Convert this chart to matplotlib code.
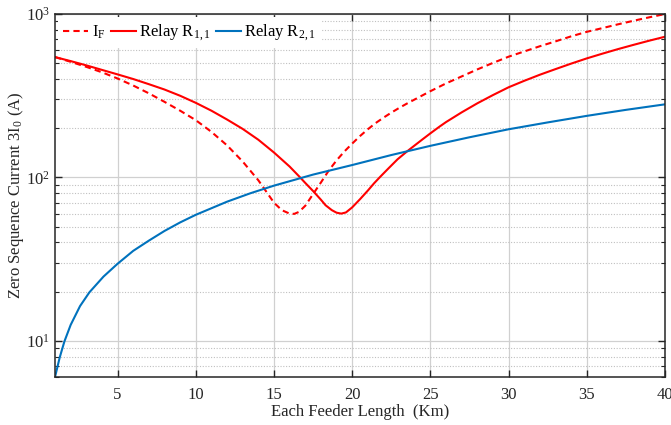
import numpy as np
import matplotlib
matplotlib.use("Agg")
import matplotlib.pyplot as plt
from matplotlib.ticker import LogLocator, NullFormatter

# ---- data (km, A) ----
x_if = [1, 2, 3, 4, 5, 6, 7, 8, 9, 10, 11, 12, 13, 14, 14.5, 15, 15.5, 16, 16.3,
        16.6, 17, 17.5, 18, 18.5, 19, 19.5, 20, 20.5, 21, 21.5, 22, 22.5, 23, 23.5,
        24, 24.5, 25, 26, 27, 28, 29, 30, 31, 32, 33, 34, 35, 36, 37, 38, 39, 40]
i_f = [545, 510, 475, 440, 403, 365, 327, 290, 256, 224, 190, 157, 125, 96, 82, 70,
       63, 60, 59.8, 61.5, 67, 79, 93, 110, 127, 144, 161, 179, 197, 215, 232, 249,
       266, 283, 300, 318, 337, 376, 415, 458, 502, 548, 590, 635, 680, 730, 778,
       820, 865, 910, 955, 1000]

x_r11 = [1, 2, 3, 4, 5, 6, 7, 8, 9, 10, 11, 12, 13, 14, 15, 16, 16.67, 17, 17.5, 18,
         18.3, 18.7, 19, 19.3, 19.6, 20, 20.5, 21, 21.4, 21.8, 22.3, 22.9, 23.5, 24,
         24.5, 25, 25.6, 26, 27, 28, 29, 30, 31, 32, 33, 34, 35, 36, 37, 38, 39, 40]
relay_r11 = [545, 515, 485, 455, 427, 400, 372, 345, 316, 286, 256, 226, 198, 170, 142,
             116.5, 100, 92.5, 82.5, 73, 67.5, 63, 60.8, 60, 61, 65.5, 73.5, 83, 92, 101,
             113, 129, 144, 157, 171, 186, 205, 218, 250, 284, 319, 356, 390, 425, 460,
             497, 535, 572, 610, 648, 687, 726]

x_r21 = [1, 1.3, 1.6, 2, 2.6, 3.2, 4.1, 5, 6, 7, 8, 9, 10, 12, 13.5, 15, 17.5, 20,
         22.5, 25, 27.5, 30, 32.5, 35, 37.5, 40]
relay_r21 = [6, 7.9, 9.9, 12.5, 16.3, 19.8, 24.7, 29.6, 35.5, 41, 47, 53, 59, 71, 80, 89,
             104, 119, 137, 156, 176, 197, 217, 238, 259, 280]

# ---- style ----
plt.rcParams['font.family'] = 'Liberation Serif'
plt.rcParams['mathtext.fontset'] = 'stix'
plt.rcParams['font.size'] = 12

fig = plt.figure(figsize=(6.71, 4.25), dpi=100)
ax = fig.add_axes([0.082, 0.113, 0.909, 0.854])

ax.plot(x_if, i_f, color='#ff0000', linestyle=(0, (3, 2)), linewidth=1.5, label=r'I$_\mathregular{F}$')
ax.plot(x_r11, relay_r11, color='#ff0000', linewidth=1.5, label=r'Relay R$_\mathregular{1,1}$')
ax.plot(x_r21, relay_r21, color='#0072BD', linewidth=1.5, label=r'Relay R$_\mathregular{2,1}$')

ax.set_yscale('log')
ax.set_xlim(1, 40)
ax.set_ylim(6, 1000)
ax.set_xticks([5, 10, 15, 20, 25, 30, 35, 40])
ax.yaxis.set_minor_locator(LogLocator(base=10, subs=np.arange(2, 10)))
ax.yaxis.set_minor_formatter(NullFormatter())

ax.grid(True, which='major', color='#d0d0d0', linewidth=0.9, linestyle='-')
ax.grid(True, which='minor', axis='y', color='#c0c0c0', linewidth=0.8, linestyle=(0, (1, 1.5)))
ax.set_axisbelow(True)

ax.tick_params(which='both', direction='in', top=True, right=True, colors='#262626')
ax.tick_params(which='major', length=5, width=1)
ax.tick_params(axis='x', which='major', pad=7)
ax.tick_params(which='minor', length=3, width=0.8)
for s in ax.spines.values():
    s.set_linewidth(1.1)
    s.set_color('#262626')

ax.set_xlabel('Each Feeder Length  (Km)', color='#262626', labelpad=1)
ax.set_ylabel(r'Zero Sequence Current 3I$_\mathregular{0}$ (A)', color='#262626', labelpad=0)

leg = ax.legend(loc='upper left', bbox_to_anchor=(0.0, 1.0), ncol=3, frameon=True,
                fancybox=False, edgecolor='none', facecolor='white', framealpha=1,
                handlelength=1.5, handletextpad=0.2, columnspacing=0.3,
                borderaxespad=0.2, borderpad=0.3, fontsize=12)

fig.savefig('out.png', dpi=100)
